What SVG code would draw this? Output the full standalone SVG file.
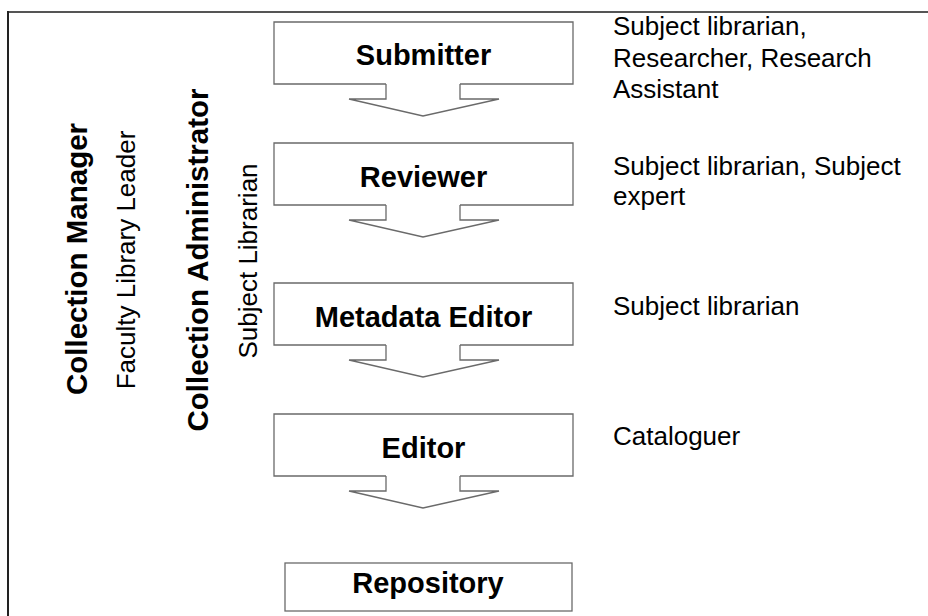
<svg xmlns="http://www.w3.org/2000/svg" width="928" height="616" viewBox="0 0 928 616">
  <style>
    .frame { fill: none; stroke-width: 2; }
    .box { fill: none; stroke: #6a6a6a; stroke-width: 1.3; }
    .arrow { fill: none; stroke: #6a6a6a; stroke-width: 1.3; stroke-linejoin: miter; }
    .role { font-family: "Liberation Sans", Arial, sans-serif; font-size: 29px; font-weight: bold; fill: #000; text-anchor: middle; }
    .who { font-family: "Liberation Sans", Arial, sans-serif; font-size: 26px; fill: #000; }
    .side-b { font-family: "Liberation Sans", Arial, sans-serif; font-size: 29.5px; font-weight: bold; fill: #000; text-anchor: middle; }
    .side-r { font-family: "Liberation Sans", Arial, sans-serif; font-size: 26px; fill: #000; text-anchor: middle; }
  </style>
  <defs>
    <!-- box outline, open at the bottom where the arrow stem joins -->
    <path id="boxOutline" d="M386,62 H274 V0 H573 V62 H460"/>
    <!-- down arrow hanging below each box -->
    <path id="downArrow" d="M386,62 V77 H349 L423,94 L499,77 H460 V62"/>
  </defs>

  <rect width="928" height="616" fill="#fff"/>

  <!-- page frame (left and top edges) -->
  <line class="frame" x1="8" y1="12" x2="928" y2="12" stroke="#555"/>
  <line class="frame" x1="8" y1="11" x2="8" y2="616" stroke="#222"/>

  <!-- side role labels -->
  <g id="collection-manager">
    <text class="side-b" transform="translate(87,259) rotate(-90)">Collection Manager</text>
    <text class="side-r" transform="translate(135,260) rotate(-90)">Faculty Library Leader</text>
  </g>
  <g id="collection-administrator">
    <text class="side-b" transform="translate(208,260) rotate(-90)">Collection Administrator</text>
    <text class="side-r" transform="translate(257,261) rotate(-90)">Subject Librarian</text>
  </g>

  <!-- workflow steps -->
  <g id="submitter">
    <use href="#boxOutline" class="box" transform="translate(0,22)"/>
    <text class="role" x="423.5" y="65">Submitter</text>
  </g>
  <g id="reviewer">
    <use href="#boxOutline" class="box" transform="translate(0,143)"/>
    <text class="role" x="423.5" y="187">Reviewer</text>
  </g>
  <g id="metadata-editor">
    <use href="#boxOutline" class="box" transform="translate(0,283)"/>
    <text class="role" x="423.5" y="327">Metadata Editor</text>
  </g>
  <g id="editor">
    <use href="#boxOutline" class="box" transform="translate(0,414)"/>
    <text class="role" x="423.5" y="458">Editor</text>
  </g>
  <g id="repository">
    <rect class="box" x="285" y="563" width="287" height="48"/>
    <text class="role" x="428" y="593">Repository</text>
  </g>

  <!-- flow arrows between steps -->
  <g id="connectors">
    <use href="#downArrow" class="arrow" transform="translate(0,22)"/>
    <use href="#downArrow" class="arrow" transform="translate(0,143)"/>
    <use href="#downArrow" class="arrow" transform="translate(0,283)"/>
    <use href="#downArrow" class="arrow" transform="translate(0,414)"/>
  </g>

  <!-- people filling each step -->
  <g id="submitter-people">
    <text class="who" x="613" y="35">Subject librarian,</text>
    <text class="who" x="613" y="66.5">Researcher, Research</text>
    <text class="who" x="613" y="98">Assistant</text>
  </g>
  <g id="reviewer-people">
    <text class="who" x="613" y="175">Subject librarian, Subject</text>
    <text class="who" x="613" y="205">expert</text>
  </g>
  <g id="metadata-editor-people">
    <text class="who" x="613" y="315">Subject librarian</text>
  </g>
  <g id="editor-people">
    <text class="who" x="613" y="445">Cataloguer</text>
  </g>
</svg>
